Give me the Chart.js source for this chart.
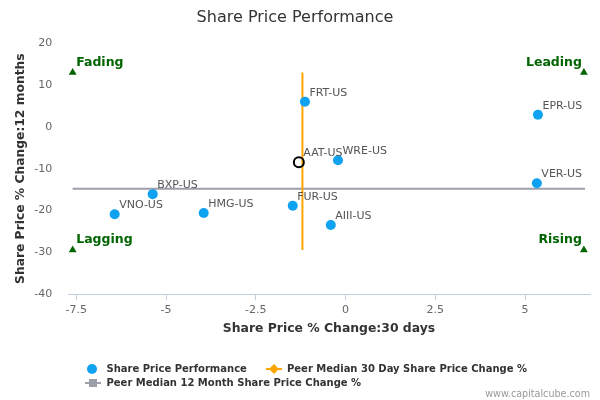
<!DOCTYPE html>
<html>
<head>
<meta charset="utf-8">
<script src="https://cdn.jsdelivr.net/npm/chart.js@4"></script>
<style>
html,body{margin:0;padding:0;background:#fff;}
#wrap{width:600px;height:400px;}
</style>
</head>
<body>
<div id="wrap"><canvas id="c" width="600" height="400"></canvas></div>
<script>
// ---- data ----
const peerNames = ['VNO-US','BXP-US','HMG-US','FUR-US','FRT-US','WRE-US','AIII-US','EPR-US','VER-US'];
const peer30d   = [-6.43, -5.37, -3.95, -1.47, -1.13, -0.21, -0.41, 5.36, 5.33];
const peer12m   = [-20.9, -16.1, -20.6, -18.9, 6.0, -8.0, -23.5, 2.9, -13.5];
const companyName = 'AAT-US';
const company30d = -1.30;
const company12m = -8.45;
const median30d = -1.2;
const median12m = -14.8;
const quadrantNames = ['Fading','Leading','Lagging','Rising'];
const quadrantX = [-7.6, 6.64, -7.6, 6.64];
const quadrantY = [13.0, 13.0, -29.45, -29.45];
const xTicks = [-7.5, -5, -2.5, 0, 2.5, 5];
const yTicks = [-40, -30, -20, -10, 0, 10, 20];
const legendNames = ['Share Price Performance','Peer Median 30 Day Share Price Change %','Peer Median 12 Month Share Price Change %'];

const FONT = "'DejaVu Sans', sans-serif";
const BLUE = '#0ea2f0', ORANGE = '#ffa500', GRAY = '#9d9fab', GREEN = '#006400';

Chart.defaults.font.family = FONT;

const labelsPlugin = {
  id: 'pointLabels',
  afterDatasetsDraw(chart) {
    const ctx = chart.ctx;
    ctx.save();
    ctx.font = "11px " + FONT;
    ctx.fillStyle = '#555';
    ctx.textAlign = 'left';
    ctx.textBaseline = 'middle';
    chart.getDatasetMeta(0).data.forEach((el, i) => {
      ctx.fillText(peerNames[i], el.x + 4.5, el.y - 9);
    });
    chart.getDatasetMeta(1).data.forEach((el) => {
      ctx.fillText(companyName, el.x + 4.5, el.y - 9);
    });
    // quadrant labels
    ctx.font = "bold 12.5px " + FONT;
    ctx.fillStyle = GREEN;
    chart.getDatasetMeta(4).data.forEach((el, i) => {
      const right = quadrantX[i] > 0;
      ctx.textAlign = right ? 'right' : 'left';
      ctx.fillText(quadrantNames[i], right ? el.x - 2 : el.x + 3.5, el.y - 9.7);
    });
    ctx.restore();
  },
  afterDraw(chart) {
    const ctx = chart.ctx;
    ctx.save();
    ctx.font = "bold 10px " + FONT;
    ctx.fillStyle = '#333';
    ctx.textAlign = 'left';
    ctx.textBaseline = 'middle';
    // row 1
    let y1 = 369, y2 = 383;
    ctx.beginPath(); ctx.fillStyle = BLUE; ctx.arc(92, y1, 5, 0, Math.PI * 2); ctx.fill();
    ctx.fillStyle = '#333'; ctx.fillText(legendNames[0], 106.5, y1);
    ctx.strokeStyle = ORANGE; ctx.lineWidth = 2;
    ctx.beginPath(); ctx.moveTo(266, y1); ctx.lineTo(282, y1); ctx.stroke();
    ctx.fillStyle = ORANGE;
    ctx.beginPath(); ctx.moveTo(274, y1 - 5); ctx.lineTo(279, y1); ctx.lineTo(274, y1 + 5); ctx.lineTo(269, y1); ctx.closePath(); ctx.fill();
    ctx.fillStyle = '#333'; ctx.fillText(legendNames[1], 287, y1);
    // row 2
    ctx.strokeStyle = GRAY;
    ctx.beginPath(); ctx.moveTo(85, y2); ctx.lineTo(101, y2); ctx.stroke();
    ctx.fillStyle = GRAY; ctx.fillRect(89, y2 - 4, 8, 8);
    ctx.fillStyle = '#333'; ctx.fillText(legendNames[2], 106.5, y2);
    // credits
    ctx.font = "9.6px " + FONT;
    ctx.fillStyle = '#999';
    ctx.textAlign = 'right';
    ctx.fillText('www.capitalcube.com', 590, 394);
    ctx.restore();
  }
};

new Chart(document.getElementById('c'), {
  type: 'scatter',
  data: {
    datasets: [
      {
        label: legendNames[0],
        data: peer30d.map((x, i) => ({x, y: peer12m[i]})),
        backgroundColor: BLUE, borderColor: BLUE,
        pointRadius: 5, pointHoverRadius: 5, borderWidth: 0
      },
      {
        label: companyName,
        data: [{x: company30d, y: company12m}],
        backgroundColor: 'rgba(0,0,0,0)', borderColor: '#000',
        pointRadius: 5, borderWidth: 2
      },
      {
        label: legendNames[1],
        type: 'line',
        data: [{x: median30d, y: quadrantY[0]}, {x: median30d, y: quadrantY[2]}],
        borderColor: ORANGE, borderWidth: 2, pointRadius: 0, showLine: true, fill: false
      },
      {
        label: legendNames[2],
        type: 'line',
        data: [{x: quadrantX[0], y: median12m}, {x: quadrantX[1] + 0.03, y: median12m}],
        borderColor: GRAY, borderWidth: 2, pointRadius: 0, showLine: true, fill: false
      },
      {
        label: 'quadrants',
        data: quadrantX.map((x, i) => ({x, y: quadrantY[i]})),
        pointStyle: 'triangle', pointRadius: 4.5,
        backgroundColor: GREEN, borderColor: GREEN, borderWidth: 0
      }
    ]
  },
  options: {
    responsive: false,
    animation: false,
    events: [],
    layout: {padding: {left: 0, right: 10, top: 0, bottom: 60}},
    plugins: {
      legend: {display: false},
      tooltip: {enabled: false},
      title: {
        display: true, text: 'Share Price Performance', color: '#333',
        font: {size: 16, weight: 'normal', family: FONT},
        padding: {top: 8, bottom: 16.1}
      }
    },
    scales: {
      x: {
        type: 'linear', position: 'bottom', min: -7.73, max: 6.81,
        afterBuildTicks: s => { s.ticks = xTicks.map(v => ({value: v})); },
        afterFit: s => { s.height = 46; },
        ticks: {color: '#666', font: {size: 11}, padding: 4, maxRotation: 0, autoSkip: false,
                callback: v => String(v)},
        grid: {display: true, drawOnChartArea: false, drawTicks: true, tickLength: 6,
               tickColor: '#C0D0E0', color: '#C0D0E0'},
        border: {display: true, color: '#C0D0E0', width: 1},
        title: {display: true, text: 'Share Price % Change:30 days', color: '#333',
                font: {size: 12.4, weight: 'bold'}, padding: {top: 0, bottom: 3.4}}
      },
      y: {
        type: 'linear', position: 'left', min: -40, max: 20,
        afterBuildTicks: s => { s.ticks = yTicks.map(v => ({value: v})); },
        afterFit: s => { s.width = 68; },
        ticks: {color: '#666', font: {size: 11}, padding: 15.7},
        grid: {display: false, drawTicks: false},
        border: {display: false},
        title: {display: true, text: 'Share Price % Change:12 months', color: '#333',
                font: {size: 12.3, weight: 'bold'}, padding: {top: 13.6, bottom: 0}}
      }
    }
  },
  plugins: [labelsPlugin]
});
</script>
</body>
</html>
